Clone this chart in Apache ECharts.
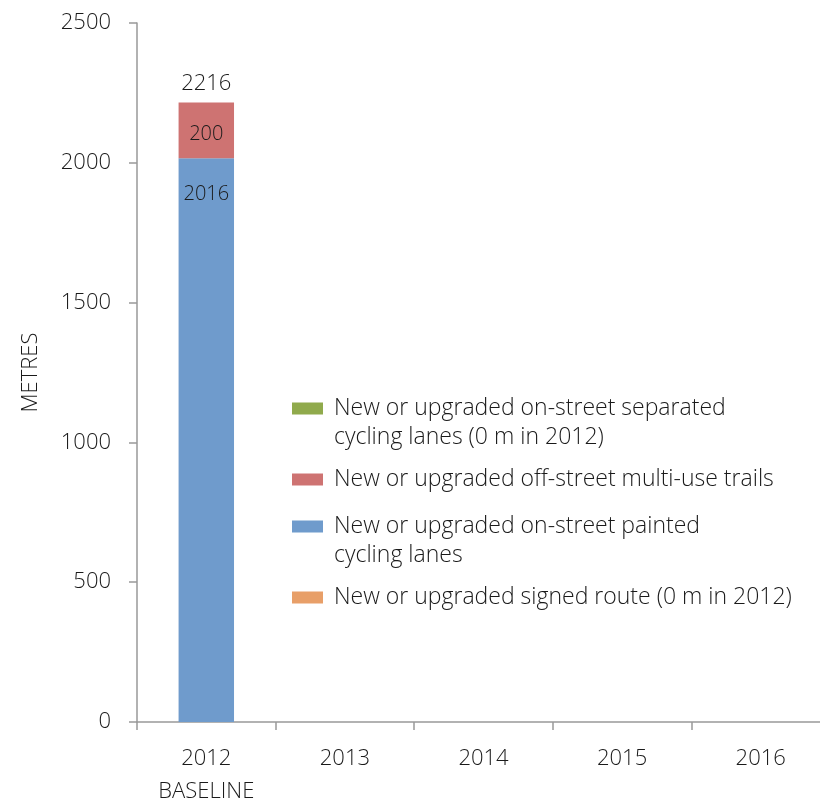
<!DOCTYPE html>
<html>
<head>
<meta charset="utf-8">
<script src="https://cdn.jsdelivr.net/npm/echarts@6/dist/echarts.min.js"></script>
<style>
  html, body { margin: 0; padding: 0; background: #fff; }
  #main { width: 820px; height: 800px; }
</style>
</head>
<body>
<div id="main"></div>
<script>
// categories and series values
let years = ['2012\nBASELINE', '2013', '2014', '2015', '2016'];
let separated = [0, null, null, null, null];
let trails = [200, null, null, null, null];
let painted = [2016, null, null, null, null];
let signed = [0, null, null, null, null];

let legendNames = [
    'New or upgraded on-street separated cycling lanes (0 m in 2012)',
    'New or upgraded off-street multi-use trails',
    'New or upgraded on-street painted cycling lanes',
    'New or upgraded signed route (0 m in 2012)'
];
let legendText = {};
legendText[legendNames[0]] = 'New or upgraded on-street separated\ncycling lanes (0 m in 2012)';
legendText[legendNames[1]] = 'New or upgraded off-street multi-use trails';
legendText[legendNames[2]] = 'New or upgraded on-street painted\ncycling lanes';
legendText[legendNames[3]] = 'New or upgraded signed route (0 m in 2012)';

// totals for the label above each bar
let totals = [];
for (let i = 0; i < years.length; i++) {
    if (painted[i] == null && trails[i] == null) {
        totals.push(null);
    } else {
        totals.push((painted[i] || 0) + (trails[i] || 0) + (separated[i] || 0) + (signed[i] || 0));
    }
}

let font = 'Open Sans, sans-serif';
let textColor = '#1a1a1a';
let myChart = echarts.init(document.getElementById('main'));

// swatch icons: the icon box is 41 high, the swatch sits on the first text line
let iconFirstLine = 'path://M0,0H31V12H0Z M0,41L0,41';
let iconMiddle = 'path://M0,0L0,0 M0,14.5H31V26.5H0Z M0,41L0,41';

function legendItem(name) {
    let twoLines = legendText[name].indexOf('\n') >= 0;
    return { name: name, icon: twoLines ? iconFirstLine : iconMiddle };
}

let legendBase = {
    orient: 'vertical',
    left: 287,
    itemWidth: 31,
    itemHeight: 41,
    itemGap: 7,
    selectedMode: false,
    formatter: function (name) { return legendText[name]; },
    textStyle: { fontSize: 23, color: textColor, lineHeight: 29, fontWeight: 300, padding: [0, 0, 0, 6] }
};

let option = {
    backgroundColor: '#fff',
    textStyle: { fontFamily: font, color: textColor },
    animation: false,
    grid: { left: 137, top: 23, bottom: 78, right: -10, outerBoundsMode: 'none' },
    legend: [
        Object.assign({}, legendBase, { top: 389, data: [legendItem(legendNames[0]), legendItem(legendNames[1])] }),
        Object.assign({}, legendBase, { top: 507, data: [legendItem(legendNames[2]), legendItem(legendNames[3])] })
    ],
    xAxis: {
        type: 'category',
        data: years,
        axisLine: { lineStyle: { color: '#999', width: 1.5 } },
        axisTick: { show: true, length: 8, lineStyle: { color: '#999', width: 1.5 } },
        axisLabel: { fontSize: 22, color: textColor, margin: 20, lineHeight: 33, fontWeight: 300 }
    },
    yAxis: {
        type: 'value',
        min: 0,
        max: 2500,
        interval: 500,
        name: 'METRES',
        nameLocation: 'middle',
        nameRotate: 90,
        nameGap: 95,
        nameTextStyle: { fontSize: 22, color: textColor, fontWeight: 300 },
        splitLine: { show: false },
        axisLine: { show: true, lineStyle: { color: '#999', width: 1.5 } },
        axisTick: { show: true, length: 8, lineStyle: { color: '#999', width: 1.5 } },
        axisLabel: {
            fontSize: 22, color: textColor, margin: 26, fontWeight: 300,
            formatter: function (v) { return String(v); }
        }
    },
    series: [
        {
            name: 'total',
            type: 'bar',
            data: totals,
            barWidth: '40%',
            barGap: '-100%',
            z: 1,
            itemStyle: { color: 'rgba(0,0,0,0)' },
            label: { show: true, position: 'top', distance: 8, fontSize: 22, color: textColor, fontWeight: 300 }
        },
        {
            name: legendNames[2],
            type: 'bar',
            stack: 'len',
            data: painted,
            barWidth: '40%',
            z: 3,
            itemStyle: { color: '#6f9bcc' },
            label: { show: true, position: 'insideTop', distance: 26, fontSize: 20, color: textColor, fontWeight: 300 }
        },
        {
            name: legendNames[1],
            type: 'bar',
            stack: 'len',
            data: trails,
            barWidth: '40%',
            z: 3,
            itemStyle: { color: '#ce7372' },
            label: { show: true, position: 'inside', offset: [0, 4], fontSize: 20, color: textColor, fontWeight: 300 }
        },
        {
            name: legendNames[0],
            type: 'bar',
            stack: 'len',
            data: separated,
            barWidth: '40%',
            z: 3,
            itemStyle: { color: '#90aa4c' }
        },
        {
            name: legendNames[3],
            type: 'bar',
            stack: 'len',
            data: signed,
            barWidth: '40%',
            z: 3,
            itemStyle: { color: '#e89f68' }
        }
    ]
};

myChart.setOption(option);
</script>
</body>
</html>
